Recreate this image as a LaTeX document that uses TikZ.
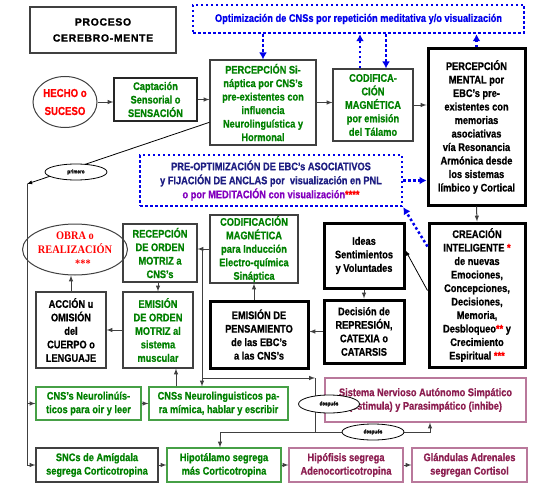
\documentclass[tikz,border=0pt]{standalone}
\usepackage{fontspec}
\setmainfont{Liberation Sans}[FakeStretch=0.84,BoldFeatures={FakeBold=0.8}]
\newfontfamily\titlefont{Liberation Sans}[LetterSpace=6,BoldFeatures={FakeBold=1.2}]
\newfontfamily\obrafont{Liberation Serif}[FakeStretch=0.9]
\usetikzlibrary{calc,arrows.meta,shapes.geometric}
\tikzset{>=latex}
\colorlet{mygreen}{green!50!black}
\colorlet{mygray}{black!75}
\definecolor{myblue}{RGB}{0,0,235}
\definecolor{mynavy}{RGB}{30,30,130}
\definecolor{mypurple}{RGB}{130,0,190}
\definecolor{mymaroon}{RGB}{140,30,80}
\definecolor{mymaroonline}{RGB}{185,120,155}
\definecolor{mygreenline}{RGB}{70,160,70}
\tikzset{
  wh/.style 2 args={minimum width=#1,minimum height=#2},
  box/.style={draw=mygray,line width=1.2pt,align=center,inner sep=1pt,
    font=\bfseries\fontsize{11}{13.5}\selectfont},
  gbox/.style={box,text=mygreen},
  kbox/.style={box,draw=black,line width=3pt},
  vbox/.style={gbox,draw=mygreenline},
  mbox/.style={box,draw=mymaroonline,text=mymaroon},
  dotbox/.style={draw=myblue,line width=2.5pt,dash pattern=on 2.5pt off 2.5pt,
    align=center,inner sep=1pt,font=\bfseries\fontsize{11}{14}\selectfont},
  oval/.style={ellipse,draw=mygray,line width=1pt,align=center,inner sep=0pt,
    font=\bfseries\fontsize{11.5}{18}\selectfont,text=red},
  tag/.style={ellipse,draw=black,line width=0.8pt,fill=white,inner sep=0pt,
    font=\bfseries\fontsize{5.5}{6}\selectfont},
  conn/.style={draw=mygray,line width=1pt},
  dotarrow/.style={myblue,line width=2.5pt,dash pattern=on 2.5pt off 2.5pt,
    -{Latex[length=7pt,width=8pt]}},
}

\begin{document}
\begin{tikzpicture}[x=1pt,y=-1pt]
  \useasboundingbox (0,0) rectangle (540,487);
  % upper part
  \node[box,wh={146}{46},font=\titlefont\bfseries\fontsize{10.5}{16}\selectfont] (title) at (103,30) {PROCESO\\CEREBRO-MENTE};
  \node[dotbox,wh={331}{28},text=myblue] (topopt) at (358.5,19)
    {Optimización de CNSs por repetición meditativa y/o visualización};
  \node[oval,wh={64}{51}] (hecho) at (65,102) {HECHO o\\SUCESO};
  \node[gbox,draw=black!85,wh={83}{43}] (capt) at (155.5,99.5) {Captación\\Sensorial o\\SENSACIÓN};
  \node[gbox,wh={106}{85}] (percsin) at (263,102.5)
    {PERCEPCIÓN Si-\\náptica por CNS’s\\pre-existentes con\\influencia\\Neurolinguística y\\Hormonal};
  \node[gbox,wh={80}{72}] (codtal) at (373,105) {CODIFICA-\\CIÓN\\MAGNÉTICA\\por emisión\\del Tálamo};
  \node[kbox,wh={97}{156}] (percment) at (476.5,127)
    {PERCEPCIÓN\\MENTAL por\\EBC’s pre-\\existentes con\\memorias\\asociativas\\vía Resonancia\\Armónica desde\\los sistemas\\límbico y Cortical};
  \node[dotbox,wh={262}{51}] (preopt) at (271,180.5)
    {\textcolor{mynavy}{PRE-OPTIMIZACIÓN DE EBC’s ASOCIATIVOS}\\
     \textcolor{mynavy}{y FIJACIÓN DE ANCLAS por\ \ visualización en PNL}\\
     \textcolor{mypurple}{o por MEDITACIÓN con visualización}\textcolor{red}{****}};
  % middle part
  \node[kbox,wh={96}{144}] (creacion) at (477,295)
    {CREACIÓN\\INTELIGENTE \textcolor{red}{*}\\de nuevas\\Emociones,\\Concepciones,\\Decisiones,\\Memoria,\\Desbloqueo\textcolor{red}{**} y\\Crecimiento\\Espiritual \textcolor{red}{***}};
  \node[kbox,wh={80}{65}] (ideas) at (364,255.5) {Ideas\\Sentimientos\\y Voluntades};
  \node[kbox,wh={80}{63}] (decision) at (364,331.5) {Decisión de\\REPRESIÓN,\\CATEXIA o\\CATARSIS};
  \node[kbox,wh={98}{67}] (emipens) at (259,334.5) {EMISIÓN DE\\PENSAMIENTO\\de las EBC’s\\a las CNS’s};
  \node[gbox,wh={88}{68}] (codind) at (254,249) {CODIFICACIÓN\\MAGNÉTICA\\para Inducción\\Electro-química\\Sináptica};
  \node[gbox,wh={74}{58}] (recep) at (160,253) {RECEPCIÓN\\DE ORDEN\\MOTRIZ a\\CNS’s};
  \node[gbox,wh={70}{76}] (emiorden) at (158,330) {EMISIÓN\\DE ORDEN\\MOTRIZ al\\sistema\\muscular};
  \node[box,wh={70}{76}] (accion) at (71,330) {ACCIÓN u\\OMISIÓN\\del\\CUERPO o\\LENGUAJE};
  \node[oval,wh={78}{51},font=\obrafont\bfseries\fontsize{11.5}{14}\selectfont] (obra) at (75,249.5)
    {OBRA o\\REALIZACIÓN\\\hspace*{16pt}***};
  % lower part
  \node[vbox,wh={105}{33}] (cnsoir) at (88.5,403.5) {CNS’s Neurolinúís-\\ticos para oir y leer};
  \node[vbox,wh={139}{33}] (cnsmim) at (218.5,403.5) {CNSs Neurolinguisticos pa-\\ra mímica, hablar y escribir};
  \node[mbox,wh={201}{44}] (sna) at (425.5,400) {Sistema Nervioso Autónomo Simpático\\(estimula) y Parasimpático (inhibe)};
  \node[gbox,wh={122}{34}] (amig) at (97,465) {SNCs de Amígdala\\segrega Corticotropina};
  \node[vbox,wh={114}{34}] (hipot) at (224,465) {Hipotálamo segrega\\más Corticotropina};
  \node[mbox,wh={114}{34}] (hipof) at (346,465) {Hipófisis segrega\\Adenocorticotropina};
  \node[mbox,wh={115}{34}] (gland) at (469.5,465) {Glándulas Adrenales\\segregan Cortisol};

  % top row
  \draw[conn,->] (hecho.east) -- (hecho.east -| capt.west);
  \draw[conn,->] (capt.east) -- (capt.east -| percsin.west);
  \draw[conn,->] (percsin.east) -- (percsin.east -| codtal.west);
  \draw[conn,->] (codtal.east) -- (codtal.east -| percment.west);
  \draw[dotarrow] (percsin.north |- topopt.south) -- (percsin.north);
  \draw[dotarrow] ([xshift=-13pt]codtal.north) -- ([xshift=-13pt]codtal.north |- topopt.south);
  \draw[dotarrow] ([xshift=13pt]codtal.north |- topopt.south) -- ([xshift=13pt]codtal.north);
  \draw[dotarrow] (percment.north) -- (percment.north |- topopt.south);
  \draw[dotarrow] (preopt.east) -- (preopt.east -| percment.west);
  \draw[dotarrow] ($(creacion.north west)+(0,25)$) -- (preopt.south east);
  \draw[conn,->] (percment.south) -- (creacion.north);
  \draw[black,line width=0.8pt,->] ($(creacion.north west)+(0,69)$) -- ($(ideas.north east)+(0,29)$);
  % middle
  \draw[conn,->] (ideas.south) -- (decision.north);
  \draw[conn,->] (decision.west) -- (decision.west -| emipens.east);
  \draw[conn,->] (emipens.north -| codind) -- (codind.south);
  \draw[conn,->] (codind.west) -- (codind.west -| recep.east);
  \draw[conn,->] (recep.south -| emiorden) -- (emiorden.north);
  \draw[conn,->] (emiorden.west) -- (emiorden.west -| accion.east);
  \draw[conn,->] (accion.north) -- (accion.north |- obra.south);
  % primero
  \coordinate (lefttop) at (27,184);
  \coordinate (leftbot) at (27,465);
  \draw[black,line width=0.8pt,->] ($(percsin.south west)!0.27!(percsin.north west)$) -- (lefttop);
  \draw[conn] (lefttop) -- (leftbot);
  \draw[conn,->] (lefttop |- cnsoir) -- (cnsoir.west);
  \draw[conn,->] (leftbot) -- (amig.west);
  % after
  \coordinate (j1) at (202,249);
  \coordinate (j2) at (202,378);
  \coordinate (k1) at (315,378);
  \coordinate (k2) at (315,432);
  \draw[conn,->] (j1) -- (j1 |- cnsmim.north);
  \draw[conn,->] (j2) -- (k1);
  \draw[conn] (k1) -- (k2);
  \draw[conn,->] (k2) -| ([xshift=4.5pt]sna.south);
  \draw[conn,->] (k2) -| ([xshift=-4pt]hipot.north);
  \draw[conn,->] ([xshift=18pt]emiorden.south |- cnsmim.north) -- ([xshift=18pt]emiorden.south);
  \draw[conn,->] (cnsoir.east) -- (cnsoir.east -| cnsmim.west);
  % bottom row
  \draw[conn,->] (amig.east) -- (hipot.west);
  \draw[conn,->] (hipot.east) -- (hipof.west);
  \draw[conn,->] (hipof.east) -- (gland.west);
  % labels
  \node[tag,wh={62}{16}] (primero) at (76,172) {primero};
  \node[tag,wh={61}{18}] (despues1) at (329,404) {después};
  \node[tag,wh={62}{16}] (despues2) at (373,432) {después};
\end{tikzpicture}
\end{document}
